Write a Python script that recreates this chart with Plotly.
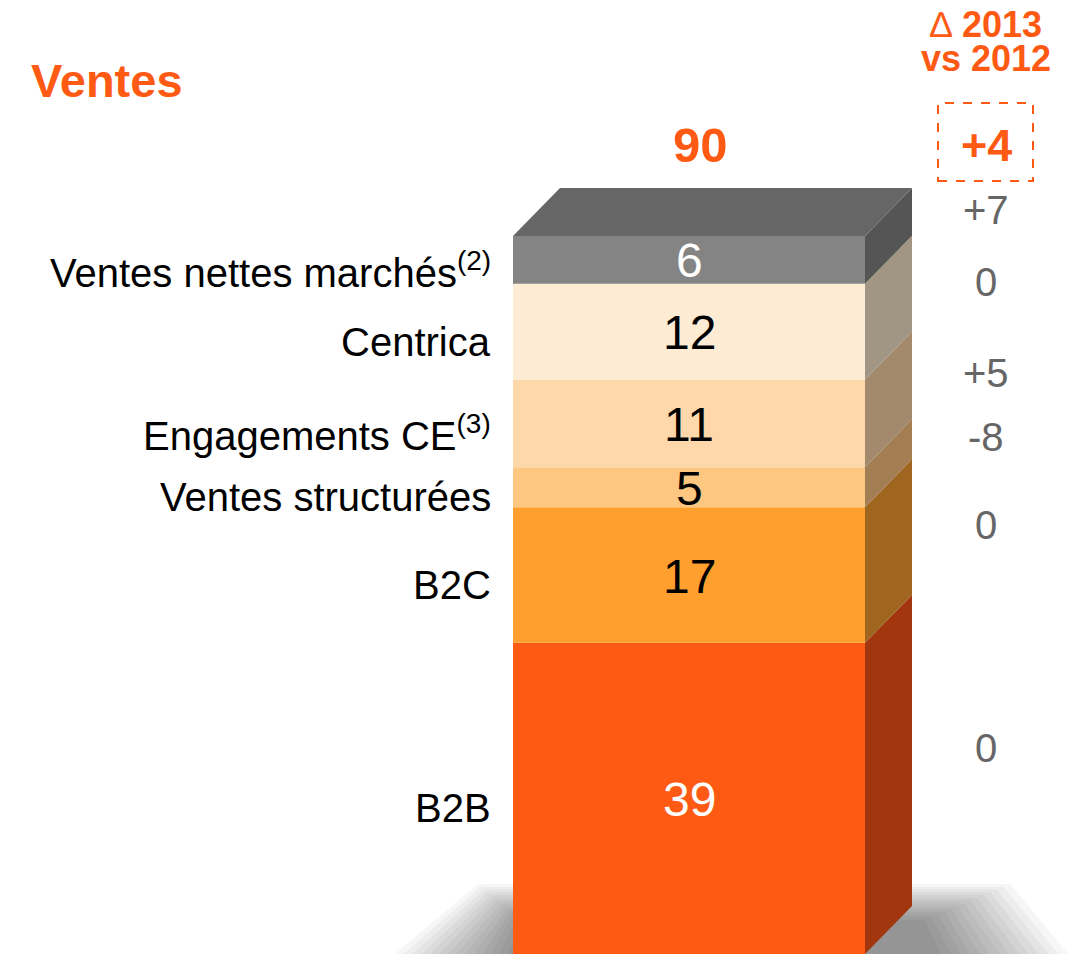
import plotly.graph_objects as go

# ---- data ----
categories = ["B2B", "B2C", "Ventes structurées", "Engagements CE<sup>(3)</sup>",
              "Centrica", "Ventes nettes marchés<sup>(2)</sup>"]
values = [39, 17, 5, 11, 12, 6]
deltas = ["0", "0", "-8", "+5", "0", "+7"]
total_label = "90"
total_delta = "+4"

front_colors = ["#FF5A14", "#FF9F2E", "#FDC681", "#FED8AA", "#FDEBD4", "#848484"]
side_colors = ["#A2360E", "#A0661F", "#A37E52", "#A38A6C", "#A19684", "#555555"]
top_color = "#666666"
orange = "#FF5A14"
grey_txt = "#666666"
FONT = "Liberation Sans, Arial, sans-serif"

# ---- geometry (layout) ----
W, H = 1080, 954          # target window
OFF = 8                   # default page body margin
FIG_W, FIG_H = W - OFF, H - OFF
PX_PER_UNIT = 718 / 90.0
BAR_X = 689
BAR_W = 352
DX = 47                      # depth offset in x (x axis is in page px)
DY = 48 / PX_PER_UNIT        # depth offset in y (data units)


def py(pix):
    """convert a page pixel row to y data units"""
    return (H - pix) / PX_PER_UNIT


fig = go.Figure()

bases = []
acc = 0
for v in values:
    bases.append(acc)
    acc += v
total = acc

for cat, v, b, c in zip(categories, values, bases, front_colors):
    fig.add_trace(go.Bar(x=[BAR_X], y=[v], base=[b], width=[BAR_W],
                         marker=dict(color=c, line=dict(width=0)),
                         name=cat, showlegend=False, hoverinfo="skip"))

x0 = BAR_X - BAR_W / 2
x1 = BAR_X + BAR_W / 2
shapes = []

# soft floor shadow (layered interpolation between outer and inner outline)
outer = [(385, 962), (478, 884), (1010, 884), (1075, 962)]
inner = [(505, 962), (520, 920), (925, 920), (945, 962)]
N = 14
for i in range(N):
    t = i / (N - 1)
    pts = [(ox + (ix - ox) * t, oy + (iy - oy) * t) for (ox, oy), (ix, iy) in zip(outer, inner)]
    path = "M " + " L ".join(f"{x:.1f},{py(y):.3f}" for x, y in pts) + " Z"
    shapes.append(dict(type="path", path=path, fillcolor="black", opacity=0.035,
                       line=dict(width=0), layer="below", xref="x", yref="y"))

# side faces
for v, b, c in zip(values, bases, side_colors):
    y0, y1 = b, b + v
    path = (f"M {x1},{y0} L {x1 + DX},{y0 + DY} L {x1 + DX},{y1 + DY} "
            f"L {x1},{y1} Z")
    shapes.append(dict(type="path", path=path, fillcolor=c, line=dict(width=0),
                       xref="x", yref="y"))
# top face
path = (f"M {x0},{total} L {x0 + DX},{total + DY} L {x1 + DX},{total + DY} "
        f"L {x1},{total} Z")
shapes.append(dict(type="path", path=path, fillcolor=top_color, line=dict(width=0),
                   xref="x", yref="y"))

# dashed box around total delta
DELTA_X = 986
shapes.append(dict(type="rect", x0=938, x1=1033, y0=py(181), y1=py(103),
                   line=dict(color=orange, width=2, dash="dash"),
                   fillcolor="rgba(0,0,0,0)", xref="x", yref="y"))

ann = []
for cat, v, b, d, fc in zip(categories, values, bases, deltas, front_colors):
    mid = b + v / 2
    # left label
    ann.append(dict(x=493, y=mid, text=cat, xanchor="right", yanchor="middle",
                    yshift=-10, showarrow=False,
                    font=dict(family=FONT, size=40, color="black")))
    # value inside bar
    txtcol = "white" if fc in ("#FF5A14", "#848484") else "black"
    ann.append(dict(x=BAR_X, y=mid, text=str(v), xanchor="center", yanchor="middle",
                    showarrow=False, yshift=-1,
                    font=dict(family=FONT, size=48, color=txtcol)))
    # delta
    ann.append(dict(x=DELTA_X, y=mid + DY, text=d, xanchor="center", yanchor="middle",
                    showarrow=False, yshift=2,
                    font=dict(family=FONT, size=40, color=grey_txt)))

ann.append(dict(x=BAR_X + 11, y=py(145), text=f"<b>{total_label}</b>", showarrow=False,
                xanchor="center", yanchor="middle",
                font=dict(family=FONT, size=49, color=orange)))
ann.append(dict(x=DELTA_X, y=py(145), text=f"<b>{total_delta}</b>", showarrow=False,
                xanchor="center", yanchor="middle",
                font=dict(family=FONT, size=45, color=orange)))
ann.append(dict(x=DELTA_X, y=py(24), text="∆ <b>2013</b>", showarrow=False,
                xanchor="center", yanchor="middle",
                font=dict(family=FONT, size=36, color=orange)))
ann.append(dict(x=DELTA_X, y=py(58), text="<b>vs 2012</b>", showarrow=False,
                xanchor="center", yanchor="middle",
                font=dict(family=FONT, size=36, color=orange)))
ann.append(dict(x=29, y=py(80), text="<b>Ventes</b>", showarrow=False,
                xanchor="left", yanchor="middle",
                font=dict(family=FONT, size=47, color=orange)))

fig.update_layout(
    width=FIG_W, height=FIG_H,
    margin=dict(l=0, r=0, t=0, b=0, pad=0),
    paper_bgcolor="white", plot_bgcolor="white",
    barmode="overlay",
    xaxis=dict(range=[OFF, W], visible=False, fixedrange=True),
    yaxis=dict(range=[py(H), py(OFF)], visible=False, fixedrange=True),
    shapes=shapes, annotations=ann,
    showlegend=False,
)

fig.write_html("out.html")
